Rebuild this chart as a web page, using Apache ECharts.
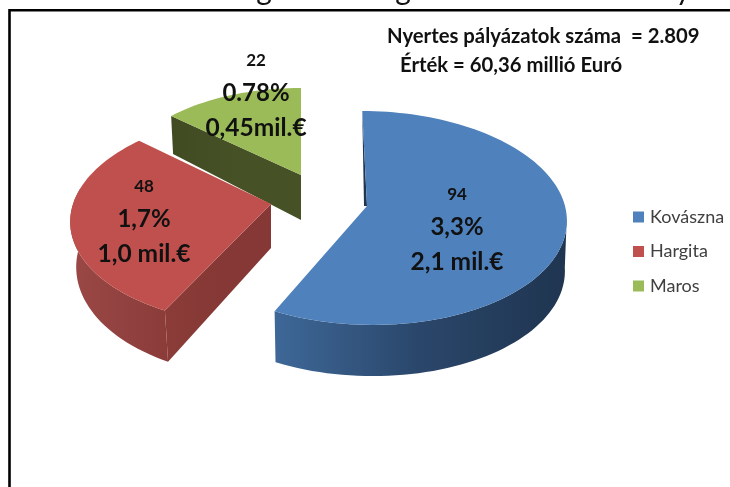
<!DOCTYPE html>
<html>
<head>
<meta charset="utf-8">
<style>
html,body{margin:0;padding:0;background:#fff;}
#chart{width:730px;height:487px;}
</style>
<script src="https://cdn.jsdelivr.net/npm/echarts@6/dist/echarts.min.js"></script>
</head>
<body>
<div id="chart"></div>
<script>
var categories = ['Kovászna', 'Hargita', 'Maros'];
var counts = [94, 48, 22];
var percentLabels = ['3,3%', '1,7%', '0.78%'];
var amountLabels = ['2,1 mil.€', '1,0 mil.€', '0,45mil.€'];
var colors = ['#4f81bd', '#c0504d', '#9bbb59'];
var noteLines = ['Nyertes pályázatok száma  = 2.809', 'Érték = 60,36 millió Euró'];
var caption = 'ábra:  122 – Fiatal gazdák megtartása a vidéki környezetben';

var FONT = 'Lato, "Open Sans", sans-serif';

// how each exploded slice sits in the picture (a 3d pie seen from above)
var slices = [
	{ cx: 367, cy: 206, a: 198, b: 105.6, p: 0.112, shear: 0.05, depth: 50, dk: 0.01, taper: 0.99,
		arcTo: 96, labelX: 457, labelY: 195, z: 12,
		wall: ['#1f3550', '#2a466a', '#3e6898'], edge: null },
	{ cx: 271, cy: 204, a: 198, b: 104, p: 0.14, shear: -0.053, depth: 44, dk: 0.067, taper: 0.97,
		arcTo: 279, labelX: 144, labelY: 187, z: 10,
		wall: ['#9b4845', '#924240', '#8b3c39'], edge: ['#8b3c39', '#853835'] },
	{ cx: 301, cy: 175, a: 181, b: 92.3, p: 0.061, shear: 0, depth: 45, dk: 0.118, taper: 0.985,
		arcTo: null, labelX: 256, labelY: 61, z: 9,
		wall: null, edge: ['#414b22', '#475126'] }
];

var total = 0;
for (var i = 0; i < counts.length; i++) total += counts[i];

function project(s, deg) {
	var t = deg * Math.PI / 180;
	var x = Math.sin(t), y = Math.cos(t);
	var den = 1 + s.p * y;
	var yy = -s.b * y / den;
	return [s.a * x / den + s.shear * yy, yy];
}
function topPoint(s, deg) {
	var q = project(s, deg);
	return [s.cx + q[0], s.cy + q[1]];
}
function lowPoint(s, q) {
	return [s.cx + q[0] * s.taper, s.cy + q[1] + s.depth + s.dk * q[1]];
}
function arcRange(a0, a1) {
	var out = [];
	for (var d = a0; d < a1; d += 2) out.push(d);
	out.push(a1);
	return out;
}
function gradient(stops) {
	return new echarts.graphic.LinearGradient(0, 0, 1, 0, [
		{ offset: 0, color: stops[0] },
		{ offset: 0.5, color: stops[1] },
		{ offset: 1, color: stops[stops.length - 1] }
	]);
}
function label(text, x, y, size, bold) {
	return {
		type: 'text',
		style: {
			text: text, x: x, y: y, fill: '#111',
			font: (bold ? 'bold ' : '') + size + 'px ' + FONT,
			align: 'center', verticalAlign: 'middle'
		}
	};
}

function renderSlice(idx, params, api) {
	var s = slices[idx];
	var start = 0;
	for (var k = 0; k < idx; k++) start += counts[k];
	var a0 = start / total * 360;
	var a1 = a0 + api.value(0) / total * 360;
	var children = [];

	// outer wall
	if (s.wall) {
		var from = idx === 0 ? s.arcTo : a0;
		var to = idx === 0 ? a1 : s.arcTo;
		var up = [], down = [];
		arcRange(from, to).forEach(function (d) {
			var q = project(s, d);
			up.push([s.cx + q[0], s.cy + q[1]]);
			down.unshift(lowPoint(s, q));
		});
		children.push({
			type: 'polygon',
			shape: { points: up.concat(down) },
			style: { fill: gradient(idx === 0 ? s.wall.slice().reverse() : s.wall) }
		});
	}
	// cut face at the start of the slice
	if (s.edge) {
		var q0 = project(s, a0);
		children.push({
			type: 'polygon',
			shape: { points: [
				[s.cx + q0[0], s.cy + q0[1]],
				[s.cx, s.cy],
				lowPoint(s, [0, 0]),
				lowPoint(s, q0)
			] },
			style: { fill: gradient(s.edge) }
		});
	}
	// thin dark strip of the big slice's back cut
	if (idx === 0) {
		children.push({
			type: 'polygon',
			shape: { points: [topPoint(s, a0), [s.cx, s.cy], [s.cx - 3, s.cy]] },
			style: { fill: '#1f3550' }
		});
	}
	// top face
	var face = [[s.cx, s.cy]];
	arcRange(a0, a1).forEach(function (d) {
		face.push(topPoint(s, d));
	});
	children.push({
		type: 'polygon',
		shape: { points: face },
		style: { fill: colors[idx] }
	});
	// texts
	children.push(label(String(api.value(0)), s.labelX, s.labelY, 17, true));
	children.push(label(percentLabels[idx], s.labelX, s.labelY + 32, 24, true));
	children.push(label(amountLabels[idx], s.labelX, s.labelY + 67, 24.5, true));

	return { type: 'group', children: children };
}

var series = categories.map(function (name, idx) {
	return {
		type: 'custom',
		name: name,
		coordinateSystem: 'none',
		z: slices[idx].z,
		silent: true,
		animation: false,
		itemStyle: { color: colors[idx] },
		data: [[counts[idx]]],
		renderItem: function (params, api) {
			return renderSlice(idx, params, api);
		}
	};
});

var myChart = echarts.init(document.getElementById('chart'), null, { renderer: 'canvas' });
var option = {
	backgroundColor: '#fff',
	animation: false,
	legend: {
		orient: 'vertical',
		left: 633,
		top: 207,
		padding: 0,
		icon: 'rect',
		itemWidth: 11,
		itemHeight: 11,
		itemGap: 14.5,
		selectedMode: false,
		data: categories,
		textStyle: { fontFamily: FONT, fontSize: 18, color: '#404040', padding: [0, 0, 0, 1], height: 20, lineHeight: 20 }
	},
	graphic: [
		{
			type: 'text', x: 12, y: -25, z: 1,
			style: { text: caption, fill: '#111', font: '30px ' + FONT }
		},
		{
			type: 'polyline', z: 2,
			shape: { points: [[9.5, 487], [9.5, 10.2], [730, 10.2]] },
			style: { stroke: '#000', lineWidth: 2.6, fill: null }
		},
		{
			type: 'text', x: 387, y: 36, z: 3,
			style: { text: noteLines[0], fill: '#111', font: 'bold 20.3px ' + FONT, verticalAlign: 'middle' }
		},
		{
			type: 'text', x: 400, y: 65, z: 3,
			style: { text: noteLines[1], fill: '#111', font: 'bold 20.3px ' + FONT, verticalAlign: 'middle' }
		}
	],
	series: series
};
myChart.setOption(option);
</script>
</body>
</html>
